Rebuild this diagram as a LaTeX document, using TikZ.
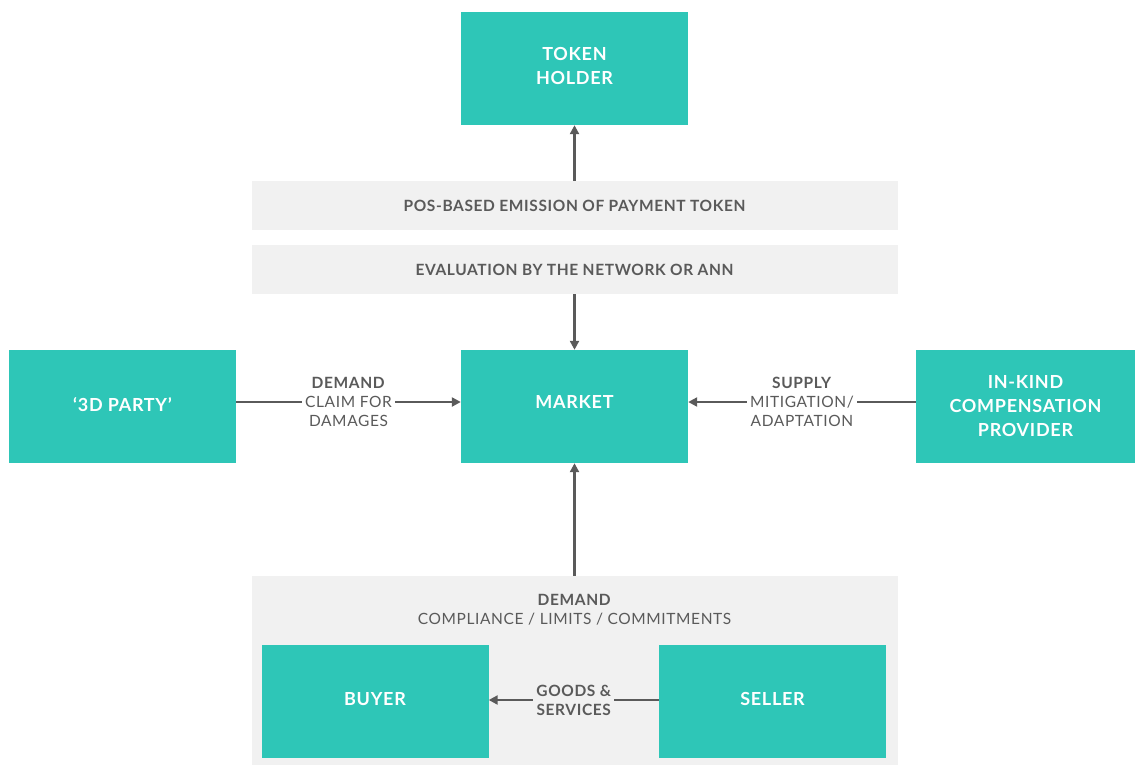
\documentclass[tikz,border=0pt]{standalone}
\usepackage{fontspec}
\setmainfont{Lato}[LetterSpace=4]
\definecolor{tk}{HTML}{2EC6B7}
\definecolor{lg}{HTML}{F1F1F1}
\definecolor{dg}{HTML}{5A5A5A}
\usetikzlibrary{arrows.meta}
\tikzstyle{box}=[rectangle, fill=tk, text=white, minimum width=227pt, minimum height=113pt, inner sep=0pt, align=center, font=\fontsize{18}{24}\selectfont\bfseries]
\tikzstyle{band}=[rectangle, fill=lg, text=dg, minimum width=646pt, minimum height=49pt, inner sep=0pt, font=\fontsize{15.5}{17}\selectfont\bfseries]
\tikzstyle{lbl}=[fill=white, text=dg, align=center, inner sep=3pt, font=\fontsize{15.5}{19}\selectfont]
\tikzstyle{arr}=[draw=dg, line width=2.5pt, -{Triangle[length=9pt,width=9pt]}]

\begin{document}
\begin{tikzpicture}[x=1pt, y=1pt]

      \useasboundingbox (0,0) rectangle (1135,-765);

      % demand area behind buyer and seller
      \node[rectangle, fill=lg, minimum width=646pt, minimum height=189pt, inner sep=0pt] (area) at (574.5,-670.5) {};
      \node[lbl, fill=lg] (demandtxt) at (574.5,-610) {\textbf{DEMAND}\\COMPLIANCE / LIMITS / COMMITMENTS};

      {
      \node[box, text depth=5pt] (holder) at (574.5,-68.5) {TOKEN\\HOLDER};
      \node[box, text depth=9pt] (market) at (574.5,-406.5) {MARKET};
      \node[box, text depth=4pt] (party) at (122.5,-406.5) {‘3D PARTY’};
      \node[box, minimum width=219pt] (provider) at (1025.5,-406.5) {IN-KIND\\COMPENSATION\\PROVIDER};
      \node[box, text depth=5pt] (buyer) at (375,-701.5) {BUYER};
      \node[box, text depth=5pt] (seller) at (772.5,-701.5) {SELLER};
      }

      \node[band] (emission) at (574.5,-205.5) {POS-BASED EMISSION OF PAYMENT TOKEN};
      \node[band] (evaluation) at (574.5,-269.5) {EVALUATION BY THE NETWORK OR ANN};

      \draw[arr] (emission.north) -- (holder.south);
      \draw[arr] (evaluation.south) -- (market.north);
      \draw[arr] (area.north) -- (market.south);

      % side arrows sit a little above the box middle
      \draw[arr] ([yshift=4.5pt]party.east) -- node[lbl] (claim) {\textbf{DEMAND}\\CLAIM FOR\\DAMAGES} ([yshift=4.5pt]market.west);
      \draw[arr] ([yshift=4.5pt]provider.west) -- node[lbl] (supply) {\textbf{SUPPLY}\\MITIGATION/\\ADAPTATION} ([yshift=4.5pt]market.east);
      \draw[arr] ([yshift=1.5pt]seller.west) -- node[lbl, fill=lg, font=\fontsize{15.5}{19}\selectfont\bfseries] (goods) {GOODS \&\\SERVICES} ([yshift=1.5pt]buyer.east);

\end{tikzpicture}
\end{document}
